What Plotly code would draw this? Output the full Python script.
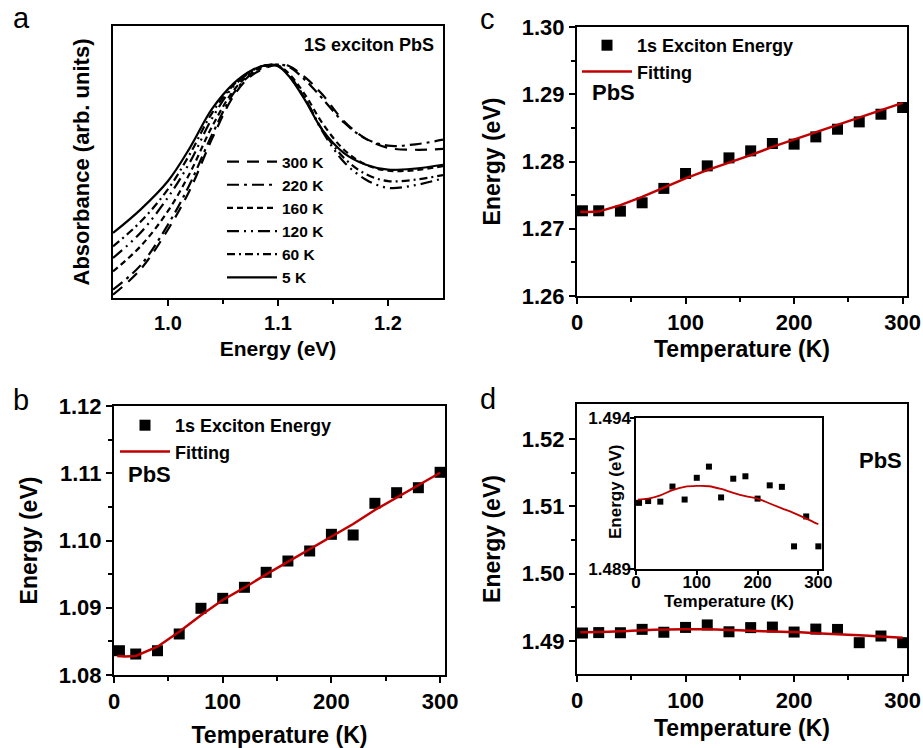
import plotly.graph_objects as go

W, H = 923, 748
FONT = "Liberation Sans, Arial, sans-serif"
RED = "#c00000"

# ---------------- Panel a: absorbance spectra ----------------
a_energy = [0.95, 0.975, 1.0, 1.02, 1.04, 1.06, 1.075, 1.09, 1.10, 1.11, 1.125, 1.14, 1.16, 1.18, 1.20, 1.225, 1.25]
a_300K = [0.012, 0.105, 0.252, 0.398, 0.585, 0.745, 0.815, 0.848, 0.858, 0.853, 0.81, 0.75, 0.65, 0.585, 0.552, 0.545, 0.548]
a_220K = [0.031, 0.12, 0.27, 0.42, 0.60, 0.755, 0.82, 0.852, 0.858, 0.85, 0.80, 0.735, 0.645, 0.585, 0.56, 0.565, 0.582]
a_160K = [0.098, 0.19, 0.32, 0.46, 0.63, 0.765, 0.825, 0.855, 0.855, 0.825, 0.745, 0.645, 0.545, 0.49, 0.468, 0.47, 0.485]
a_120K = [0.147, 0.24, 0.37, 0.50, 0.66, 0.78, 0.83, 0.856, 0.853, 0.82, 0.73, 0.615, 0.50, 0.435, 0.405, 0.415, 0.44]
a_60K = [0.19, 0.28, 0.40, 0.53, 0.68, 0.785, 0.833, 0.857, 0.853, 0.818, 0.73, 0.62, 0.515, 0.455, 0.43, 0.435, 0.452]
a_5K = [0.239, 0.325, 0.43, 0.553, 0.695, 0.79, 0.835, 0.856, 0.852, 0.815, 0.725, 0.62, 0.533, 0.49, 0.472, 0.476, 0.49]
a_labels = ["300 K", "220 K", "160 K", "120 K", "60 K", "5 K"]
a_dashes = ["12px,8px", "12px,5px,3px,5px", "6px,4px", "12px,5px,2px,5px,2px,5px", "8px,4px,2px,4px", "solid"]

# ---------------- Panel b ----------------
b_T = [5, 20, 40, 60, 80, 100, 120, 140, 160, 180, 200, 220, 240, 260, 280, 300]
b_E = [1.08361, 1.08312, 1.08361, 1.0861, 1.08992, 1.0914, 1.09304, 1.09527, 1.09695, 1.09844,
       1.10092, 1.10082, 1.10553, 1.10711, 1.10785, 1.11014]
b_fit_T = [3, 10, 20, 40, 60, 80, 100, 120, 140, 160, 180, 200, 220, 240, 260, 280, 300]
b_fit_E = [1.08283, 1.08275, 1.08283, 1.0842, 1.08644, 1.0889, 1.09115, 1.09298, 1.09497, 1.09685,
           1.09874, 1.10057, 1.10245, 1.10453, 1.10642, 1.10825, 1.11008]

# ---------------- Panel c ----------------
c_T = [5, 20, 40, 60, 80, 100, 120, 140, 160, 180, 200, 220, 240, 260, 280, 300]
c_E = [1.27267, 1.27267, 1.27262, 1.27386, 1.2760, 1.27822, 1.27935, 1.28054, 1.28158, 1.28268,
       1.28258, 1.28366, 1.2848, 1.28589, 1.28703, 1.28803]
c_fit_T = [3, 10, 20, 40, 60, 80, 100, 120, 140, 160, 180, 200, 220, 240, 260, 280, 300]
c_fit_E = [1.27252, 1.27248, 1.27255, 1.27352, 1.27475, 1.27614, 1.27748, 1.27871, 1.2798, 1.28094,
           1.28218, 1.28327, 1.2844, 1.28555, 1.28663, 1.28773, 1.28871]

# ---------------- Panel d (and inset) ----------------
d_T = [5, 20, 40, 60, 80, 100, 120, 140, 160, 180, 200, 220, 240, 260, 280, 300]
d_E = [1.49119, 1.49125, 1.49123, 1.49173, 1.4913, 1.49202, 1.49239, 1.49137, 1.49199, 1.49207,
       1.49133, 1.49177, 1.49172, 1.48975, 1.49074, 1.48975]
d_fit_T = [3, 20, 40, 60, 80, 100, 120, 140, 160, 180, 200, 220, 240, 260, 280, 300]
d_fit_E = [1.4913, 1.49133, 1.49144, 1.49161, 1.49172, 1.49175, 1.49174, 1.49165, 1.49152, 1.49141,
           1.49133, 1.49117, 1.49101, 1.49085, 1.49067, 1.49048]

fig = go.Figure()

# panel a traces
for ys, lab, dsh in zip([a_300K, a_220K, a_160K, a_120K, a_60K, a_5K], a_labels, a_dashes):
    fig.add_trace(go.Scatter(x=a_energy, y=ys, mode="lines", name=lab,
                             line=dict(color="black", width=2.2, dash=dsh, shape="spline", smoothing=1.0),
                             xaxis="x", yaxis="y", legend="legend"))

# panel c
fig.add_trace(go.Scatter(x=c_T, y=c_E, mode="markers", name="1s Exciton Energy",
                         marker=dict(symbol="square", size=11, color="black"),
                         xaxis="x2", yaxis="y2", legend="legend2"))
fig.add_trace(go.Scatter(x=c_fit_T, y=c_fit_E, mode="lines", name="Fitting",
                         line=dict(color=RED, width=2.5),
                         xaxis="x2", yaxis="y2", legend="legend2"))
# panel b
fig.add_trace(go.Scatter(x=b_T, y=b_E, mode="markers", name="1s Exciton Energy",
                         marker=dict(symbol="square", size=11, color="black"),
                         xaxis="x3", yaxis="y3", legend="legend3"))
fig.add_trace(go.Scatter(x=b_fit_T, y=b_fit_E, mode="lines", name="Fitting",
                         line=dict(color=RED, width=2.5),
                         xaxis="x3", yaxis="y3", legend="legend3"))
# panel d
fig.add_trace(go.Scatter(x=d_T, y=d_E, mode="markers", showlegend=False,
                         marker=dict(symbol="square", size=11, color="black"),
                         xaxis="x4", yaxis="y4"))
fig.add_trace(go.Scatter(x=d_fit_T, y=d_fit_E, mode="lines", showlegend=False,
                         line=dict(color=RED, width=2.5, shape="spline"),
                         xaxis="x4", yaxis="y4"))
# inset
fig.add_trace(go.Scatter(x=d_T, y=d_E, mode="markers", showlegend=False,
                         marker=dict(symbol="square", size=6, color="black"),
                         xaxis="x5", yaxis="y5"))
fig.add_trace(go.Scatter(x=d_fit_T, y=d_fit_E, mode="lines", showlegend=False,
                         line=dict(color=RED, width=1.8, shape="spline"),
                         xaxis="x5", yaxis="y5"))


def px_x(p):
    return p / W


def px_y(p):
    return 1 - p / H


def ax(domain, rng, title, tsize=23, fsize=22, standoff=None, **kw):
    t = dict(text=title, font=dict(family=FONT, size=tsize, color="black", weight="bold"))
    if standoff is not None:
        t["standoff"] = standoff
    d = dict(domain=domain, range=rng, showline=True, linewidth=2, linecolor="black", mirror=True,
             showgrid=False, zeroline=False, ticks="outside", ticklen=6, tickwidth=2, tickcolor="black",
             automargin=False,
             tickfont=dict(family=FONT, size=fsize, color="black", weight="bold"),
             title=t)
    d.update(kw)
    return d


minor_x = dict(ticklen=4, tickwidth=2, tickcolor="black", dtick=50)

fig.update_layout(
    width=W, height=H, margin=dict(l=0, r=0, t=0, b=0, autoexpand=False),
    paper_bgcolor="white", plot_bgcolor="white",
    font=dict(family=FONT, color="black"),
    # panel a
    xaxis=ax([px_x(113), px_x(443)], [0.95, 1.25], "Energy (eV)", tsize=21, fsize=20, standoff=8,
             tickvals=[1.0, 1.1, 1.2], ticktext=["1.0", "1.1", "1.2"],
             minor=dict(ticklen=4, tickwidth=2, tickcolor="black", tickvals=[1.05, 1.15]), anchor="y"),
    yaxis=ax([px_y(298), px_y(26)], [0, 1], "Absorbance (arb. units)", tsize=22,
             ticks="", showticklabels=False, anchor="x"),
    # panel c
    xaxis2=ax([px_x(577), px_x(907)], [0, 304], "Temperature (K)", standoff=6, dtick=100, minor=minor_x,
              anchor="y2"),
    yaxis2=ax([px_y(296), px_y(27)], [1.26, 1.30], "Energy (eV)", dtick=0.01, tickformat=".2f",
              minor=dict(ticklen=4, tickwidth=2, tickcolor="black", dtick=0.005), anchor="x2"),
    # panel b
    xaxis3=ax([px_x(114), px_x(445)], [0, 304.5], "Temperature (K)", dtick=100, minor=minor_x, anchor="y3"),
    yaxis3=ax([px_y(675), px_y(406)], [1.08, 1.12], "Energy (eV)", dtick=0.01, tickformat=".2f",
              minor=dict(ticklen=4, tickwidth=2, tickcolor="black", dtick=0.005), anchor="x3"),
    # panel d
    xaxis4=ax([px_x(577), px_x(907)], [0, 304], "Temperature (K)", standoff=7, dtick=100, minor=minor_x,
              anchor="y4"),
    yaxis4=ax([px_y(674), px_y(404)], [1.4851, 1.5252], "Energy (eV)", tickvals=[1.49, 1.50, 1.51, 1.52],
              ticktext=["1.49", "1.50", "1.51", "1.52"],
              minor=dict(ticklen=4, tickwidth=2, tickcolor="black", tickvals=[1.495, 1.505, 1.515]), anchor="x4"),
    # inset
    xaxis5=ax([px_x(636), px_x(822)], [0, 306], "Temperature (K)", tsize=17, fsize=17, standoff=0, dtick=100,
              ticklen=4, linewidth=1.5, tickwidth=1.5, ticklabelstandoff=-7, anchor="y5"),
    yaxis5=ax([px_y(569), px_y(418)], [1.489, 1.494], "", tsize=17, fsize=17,
              tickvals=[1.489, 1.494], ticktext=["1.489", "1.494"], ticklen=4, linewidth=1.5, tickwidth=1.5,
              ticklabelstandoff=-4, anchor="x5"),
    legend=dict(x=px_x(222), y=px_y(145), xanchor="left", yanchor="top", bgcolor="rgba(0,0,0,0)",
                font=dict(family=FONT, size=15.5, color="black", weight="bold"), itemwidth=50,
                tracegroupgap=0),
    legend2=dict(x=px_x(577), y=px_y(27), xanchor="left", yanchor="top", bgcolor="rgba(0,0,0,0)",
                 font=dict(family=FONT, size=18, color="black", weight="bold"), itemwidth=50),
    legend3=dict(x=px_x(115), y=px_y(407), xanchor="left", yanchor="top", bgcolor="rgba(0,0,0,0)",
                 font=dict(family=FONT, size=18, color="black", weight="bold"), itemwidth=50),
)

annots = [
    dict(text="a", x=px_x(11), y=px_y(18), size=29, bold=False),
    dict(text="c", x=px_x(478), y=px_y(19), size=29, bold=False),
    dict(text="b", x=px_x(11), y=px_y(400), size=29, bold=False),
    dict(text="d", x=px_x(478), y=px_y(399), size=29, bold=False),
    dict(text="1S exciton PbS", x=px_x(302), y=px_y(45), size=18, bold=True),
    dict(text="PbS", x=px_x(126), y=px_y(474), size=22, bold=True),
    dict(text="PbS", x=px_x(590), y=px_y(93), size=22, bold=True),
    dict(text="PbS", x=px_x(857), y=px_y(460), size=22, bold=True),
]
for a in annots:
    fig.add_annotation(text=a["text"], x=a["x"], y=a["y"], xref="paper", yref="paper",
                       xanchor="left", yanchor="middle", showarrow=False,
                       font=dict(family=FONT, size=a["size"], color="black",
                                 weight="bold" if a["bold"] else "normal"))

# inset y-axis title, placed between the two inset tick labels
fig.add_annotation(text="Energy (eV)", x=px_x(615), y=px_y(492), xref="paper", yref="paper",
                   textangle=-90, showarrow=False, xanchor="center", yanchor="middle",
                   font=dict(family=FONT, size=17, color="black", weight="bold"))

# remove the default page margin so the 923x748 figure fills the window exactly
fig.write_html("out.html", config={"displayModeBar": False},
               post_script="document.body.style.margin='0';")
